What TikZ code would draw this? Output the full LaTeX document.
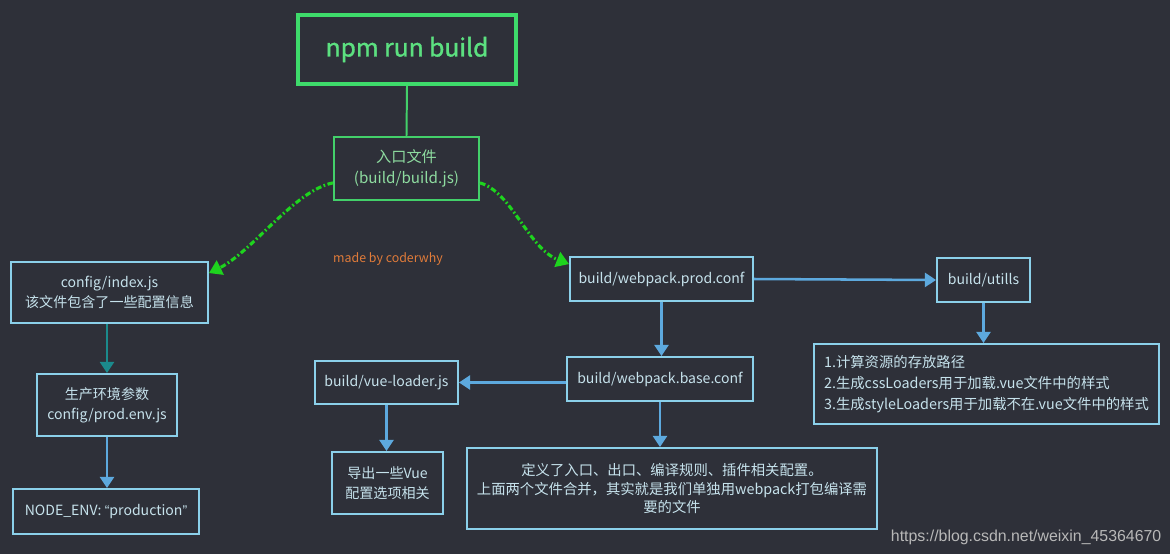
\documentclass[tikz,border=0pt]{standalone}
\usepackage{fontspec}
\setmainfont{Noto Sans CJK SC}
\newfontfamily\topfont[FakeBold=1.2]{Noto Sans CJK SC}
\newfontfamily\urlfont{Liberation Sans}
\usetikzlibrary{arrows.meta}

\definecolor{bg}{HTML}{2E3039}
\definecolor{boxline}{HTML}{8BD0EA}
\definecolor{boxtext}{HTML}{C6E2EC}
\definecolor{arrowblue}{HTML}{5DA9DE}
\definecolor{teal}{HTML}{1B8A8C}
\definecolor{topgreen}{HTML}{3EDB6B}
\definecolor{toptext}{HTML}{5CE080}
\definecolor{entrygreen}{HTML}{43D06A}
\definecolor{entrytext}{HTML}{8EDCA0}
\definecolor{jumpgreen}{HTML}{1ED41E}
\definecolor{signorange}{HTML}{E07B39}
\definecolor{urlgray}{HTML}{B8B8B8}

\begin{document}
\begin{tikzpicture}[x=0.025cm, y=-0.025cm,
    every node/.style={font=\fontsize{10}{14.5}\selectfont, text=boxtext},
    box/.style={draw=boxline, line width=1.3pt, inner sep=0pt, align=center},
    flow/.style={draw=arrowblue, line width=1.8pt, -{Triangle[width=10pt,length=8pt]}},
    jump/.style={draw=jumpgreen, line width=2.2pt, dash pattern=on 4pt off 1.8pt on 1.2pt off 1.8pt,
        -{Triangle[width=11pt,length=9pt]}}]
    \fill[bg] (0,0) rectangle (1170,554);
    \useasboundingbox (0,0) rectangle (1170,554);

    \node[box, minimum width=5.45cm, minimum height=1.725cm, draw=topgreen, line width=2.4pt,
        text=toptext, font=\topfont\fontsize{17.5}{20}\selectfont] (npm) at (407,49.5) {npm run build};
    \node[box, minimum width=3.625cm, minimum height=1.575cm, draw=entrygreen, line width=1.4pt,
        text=entrytext, font=\fontsize{10.8}{15}\selectfont] (entry) at (406.5,168.5) {入口文件\\(build/build.js)};
    \draw[entrygreen, line width=1.4pt] (npm.south) -- (entry.north);

    \node[font=\fontsize{8.8}{10}\selectfont, text=signorange] (sign) at (388,259) {made by coderwhy};

    \node[box, minimum width=4.925cm, minimum height=1.525cm] (cfg) at (109.5,292.5) {config/index.js\\该文件包含了一些配置信息};
    \node[box, minimum width=3.5cm, minimum height=1.55cm] (env) at (107,405) {生产环境参数\\config/prod.env.js};
    \node[box, minimum width=4.65cm, minimum height=1.125cm] (mode) at (106,511.5) {NODE\_ENV: {\urlfont “}production{\urlfont ”}};

    \node[box, minimum width=4.575cm, minimum height=1.1cm] (prod) at (661.5,279) {build/webpack.prod.conf};
    \node[box, minimum width=2.325cm, minimum height=1.1cm] (utils) at (983.5,280) {build/utills};
    \node[box, minimum width=8.625cm, minimum height=2cm, align=left, font=\fontsize{10.2}{15}\selectfont] (steps) at (986.5,384)
        {1.计算资源的存放路径\\2.生成cssLoaders用于加载.vue文件中的样式\\3.生成styleLoaders用于加载不在.vue文件中的样式};
    \node[box, minimum width=4.65cm, minimum height=1.1cm] (base) at (660,379) {build/webpack.base.conf};
    \node[box, minimum width=3.575cm, minimum height=1.075cm] (vue) at (386.5,382.5) {build/vue-loader.js};
    \node[box, minimum width=2.775cm, minimum height=1.55cm] (export) at (387.5,483) {导出一些Vue\\配置选项相关};
    \node[box, minimum width=10.25cm, minimum height=2.025cm, font=\fontsize{10.2}{13.5}\selectfont] (merge) at (672,488.5)
        {定义了入口、出口、编译规则、插件相关配置。\\上面两个文件合并，其实就是我们单独用webpack打包编译需\\要的文件};

    \draw[jump] ([yshift=-0.36cm]entry.west) .. controls (295,190) and (252,252) .. ([yshift=-0.3cm]cfg.north east);
    \draw[jump] ([yshift=-0.36cm]entry.east) .. controls (512,192) and (528,248) .. ([yshift=-0.2cm]prod.north west);

    \draw[flow, draw=teal] (env.north |- cfg.south) -- (env.north);
    \draw[flow] (env.south) -- (env.south |- mode.north);
    \draw[flow] (prod.east) -- (utils.west);
    \draw[flow] (utils.south) -- (utils.south |- steps.north);
    \draw[flow] (prod.south) -- (prod.south |- base.north);
    \draw[flow] (base.west |- vue.east) -- (vue.east);
    \draw[flow] (vue.south) -- (vue.south |- export.north);
    \draw[flow] (base.south) -- (base.south |- merge.north);

    \node[anchor=west, text=urlgray, font=\urlfont\fontsize{11.3}{13}\selectfont] (url) at (886,537) {https://blog.csdn.net/weixin\_45364670};
\end{tikzpicture}
\end{document}
